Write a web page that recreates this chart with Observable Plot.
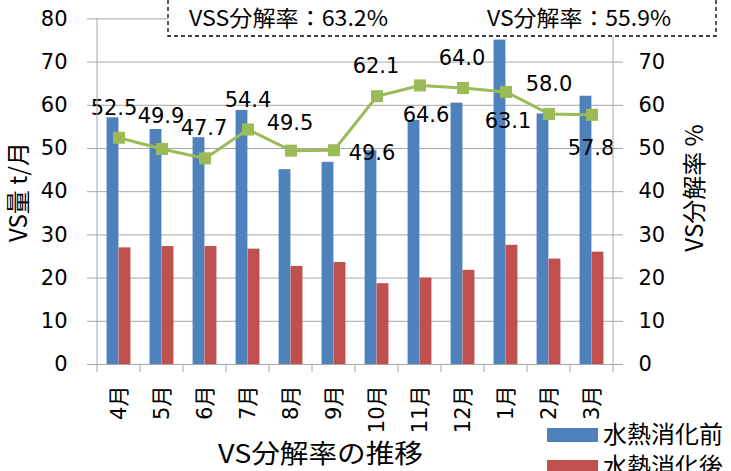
<!DOCTYPE html>
<html><head><meta charset="utf-8">
<script src="https://cdn.jsdelivr.net/npm/d3@7"></script>
<script src="https://cdn.jsdelivr.net/npm/@observablehq/plot@0.6"></script>
<style>
body{margin:0;background:#fff}
#chart{width:731px;height:471px;overflow:hidden}
</style>
</head><body><div id="chart"></div>
<script>
// ---- data ----
const months = ["4月","5月","6月","7月","8月","9月","10月","11月","12月","1月","2月","3月"];
const vsBefore = [57.1,54.4,52.5,58.8,45.1,46.8,49.5,56.5,60.5,75.1,58.0,62.1];
const vsAfter  = [27.0,27.3,27.3,26.7,22.7,23.6,18.7,20.0,21.8,27.6,24.4,26.0];
const vsRate   = [52.5,49.9,47.7,54.4,49.5,49.6,62.1,64.6,64.0,63.1,58.0,57.8];
const yTicks = [0,10,20,30,40,50,60,70,80];
const y2Ticks = [0,10,20,30,40,50,60,70];
const seriesNames = ["水熱消化前","水熱消化後"];
const summaryTexts = ["VSS分解率：63.2%","VS分解率：55.9%"];
const titleText = "VS分解率の推移";
const yTitle = "VS量 t/月";
const y2Title = "VS分解率 %";

// ---- label placement (pixels, styling only) ----
const labelDx = [-5,-1,-1,0,-1,38,-1,6,-1,2,0,-1];
const labelDy = [-29,-33,-30,-29,-27.5,3,-30,30,-29.5,29,-30,33];

const BLUE = "#4F81BD", RED = "#C0504D", GREEN = "#9BBB59", GRID = "#a6a6a6";
const NUMFONT = "'DejaVu Sans','Noto Sans CJK JP',sans-serif";
const JPFONT = "'Noto Sans CJK JP','DejaVu Sans',sans-serif";

const rows = months.map((m, i) => ({month: m, before: vsBefore[i], after: vsAfter[i], rate: vsRate[i]}));

const W = 731, H = 471, ML = 96, MR = 117, MT = 18.4, MB = 107;
const bw = (W - ML - MR) / months.length;

const plot = Plot.plot({
  width: W, height: H,
  marginLeft: ML, marginRight: MR, marginTop: MT, marginBottom: MB,
  style: {fontFamily: NUMFONT, fontSize: "21px", color: "#000", background: "#fff"},
  x: {type: "band", domain: months, padding: 0},
  y: {domain: [0, 80]},
  marks: [
    Plot.ruleY(yTicks, {stroke: GRID, strokeWidth: 1, insetLeft: -9, insetRight: -9}),
    Plot.axisY({anchor: "left", ticks: yTicks, tickSize: 0, tickPadding: 29, label: null, fontSize: 21, tickFormat: d => String(d)}),
    Plot.axisY({anchor: "right", ticks: y2Ticks, tickSize: 0, tickPadding: 24, label: null, fontSize: 21, tickFormat: d => String(d)}),
    Plot.axisX({anchor: "bottom", tickSize: 0, tickPadding: 21, tickRotate: -90, label: null, fontSize: 21}),
    Plot.barY(rows, {x: "month", y: "before", fill: BLUE, insetLeft: bw/2 - 12, insetRight: bw/2}),
    Plot.barY(rows, {x: "month", y: "after", fill: RED, insetLeft: bw/2, insetRight: bw/2 - 12}),
    Plot.line(rows, {x: "month", y: "rate", stroke: GREEN, strokeWidth: 3}),
    Plot.dot(rows, {x: "month", y: "rate", symbol: "square", r: 6.8, fill: GREEN, stroke: "none"}),
    ...rows.map((d, i) => Plot.text([d], {x: "month", y: "rate", text: r => r.rate.toFixed(1),
      dx: labelDx[i], dy: labelDy[i], fontSize: 21, fill: "#000"}))
  ]
});

document.getElementById("chart").appendChild(plot);

// ---- extra decorations using the plot's scales ----
const svg = d3.select(plot);
const xs = plot.scale("x"), ys = plot.scale("y");
const y0 = ys.apply(0), yTop = ys.apply(80);
const xL = xs.apply(months[0]), xR = xs.apply(months[months.length - 1]) + xs.bandwidth;

const deco = svg.append("g");
deco.append("line").attr("x1", xL).attr("x2", xL).attr("y1", yTop).attr("y2", y0).attr("stroke", GRID);
deco.append("line").attr("x1", xR).attr("x2", xR).attr("y1", yTop).attr("y2", y0).attr("stroke", GRID);
const bounds = months.map(m => xs.apply(m)).concat([xR]);
deco.selectAll(".bt").data(bounds).join("line")
  .attr("x1", d => d).attr("x2", d => d).attr("y1", y0).attr("y2", y0 + 8).attr("stroke", GRID);

// dashed summary box
const box = svg.append("g").attr("text-anchor", "start");
box.append("rect").attr("x", 168).attr("y", -5).attr("width", 548).attr("height", 41)
  .attr("fill", "#fff").attr("stroke", "#000").attr("stroke-width", 1.3).attr("stroke-dasharray", "4,3");
box.append("text").attr("x", 189).attr("y", 25.5).attr("font-family", JPFONT).attr("font-size", 22)
  .attr("textLength", 199).attr("lengthAdjust", "spacingAndGlyphs").text(summaryTexts[0]);
box.append("text").attr("x", 487).attr("y", 25.5).attr("font-family", JPFONT).attr("font-size", 22)
  .attr("textLength", 184).attr("lengthAdjust", "spacingAndGlyphs").text(summaryTexts[1]);

// axis titles
svg.append("text").attr("transform", "translate(19,192) rotate(-90)")
  .attr("text-anchor", "middle").attr("dy", "0.35em").attr("font-family", JPFONT).attr("font-size", 24)
  .text(yTitle);
svg.append("text").attr("transform", "translate(695,188) rotate(-90)")
  .attr("text-anchor", "middle").attr("dy", "0.35em").attr("font-family", JPFONT).attr("font-size", 24)
  .text(y2Title);

// title
svg.append("text").attr("x", 218).attr("y", 454).attr("dy", "0.35em").attr("text-anchor", "start")
  .attr("font-family", JPFONT).attr("font-size", 26)
  .attr("textLength", 205).attr("lengthAdjust", "spacingAndGlyphs").text(titleText);

// legend
const colors = [BLUE, RED];
seriesNames.forEach((name, i) => {
  const y = 428 + i * 32;
  svg.append("rect").attr("x", 547).attr("y", y).attr("width", 51).attr("height", 14).attr("fill", colors[i]);
  svg.append("text").attr("x", 603).attr("y", y + 7).attr("dy", "0.35em").attr("text-anchor", "start")
    .attr("font-family", JPFONT).attr("font-size", 24).text(name);
});
</script>
</body></html>
